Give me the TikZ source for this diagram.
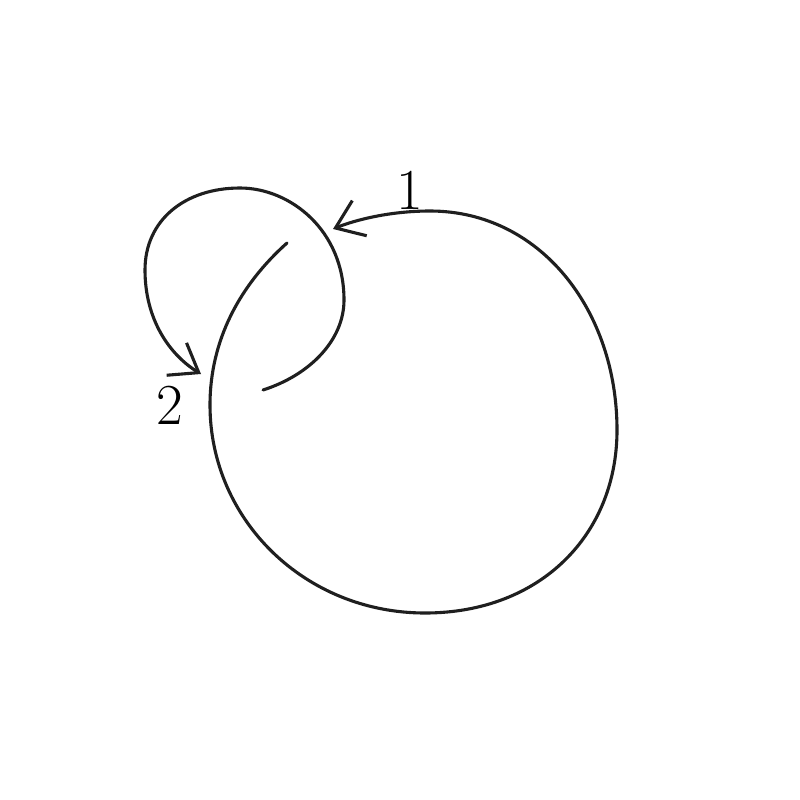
\documentclass[tikz,border=0pt]{standalone}
\usetikzlibrary{arrows.meta}
\begin{document}
\begin{tikzpicture}[x=1pt,y=-1pt,
  stroke/.style={line width=3.1pt, line cap=round, line join=round, black!88},
  tip/.style={-{Straight Barb[length=26pt,width=38pt,line width=3.1pt]}},
  lbl/.style={font=\fontsize{58}{58}\selectfont, inner sep=0pt}]
\useasboundingbox[fill=white] (0,0) rectangle (800,800);
% big loop with arrow 1
\draw[stroke,tip] (287,243) .. controls (240,285) and (210,340) .. (210,405)
  .. controls (210,520) and (305,613) .. (425,613)
  .. controls (540,613) and (617,535) .. (617,430)
  .. controls (617,310) and (540,211) .. (430,211)
  .. controls (390,211) and (355,220) .. (333,229);
% small loop with arrow 2
\draw[stroke,tip] (263,390) .. controls (310,375) and (344,340) .. (344,300)
  .. controls (344,230) and (290,188) .. (240,188)
  .. controls (185,188) and (145,220) .. (145,270)
  .. controls (145,320) and (170,355) .. (201,374);
\node[lbl] (one) at (410,190) {1};
\node[lbl] (two) at (170,405) {2};
\end{tikzpicture}
\end{document}
